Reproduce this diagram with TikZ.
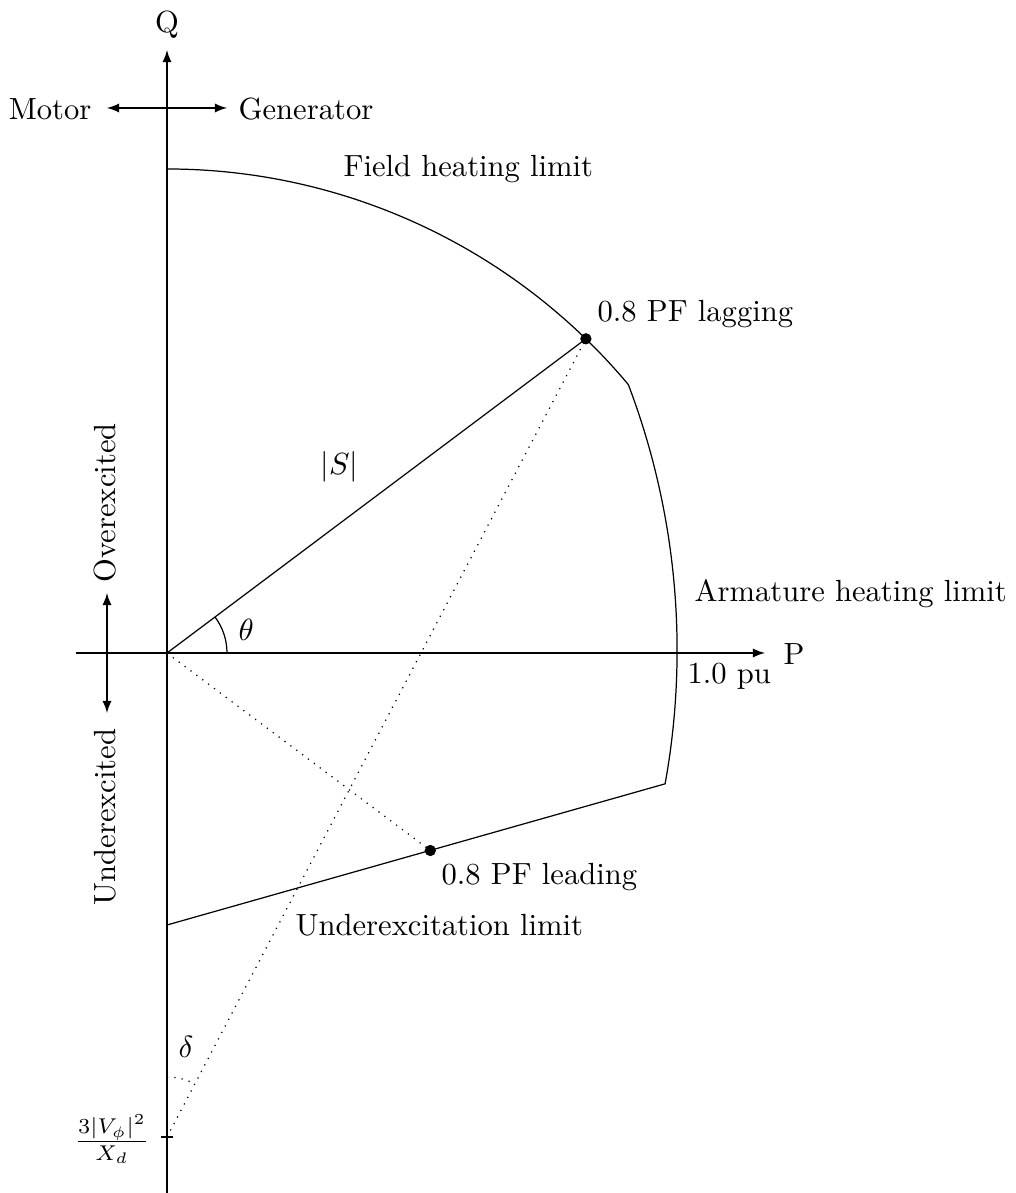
\documentclass[tikz,border=0pt]{standalone}
\usetikzlibrary{arrows}
\begin{document}
\begin{tikzpicture}[x=0.3268pt, y=0.3268pt,
  lbl/.style={inner sep=0pt},
  axisline/.style={-latex},
  dblarrow/.style={latex-latex},
  dotmark/.style={circle, fill=black, inner sep=0pt, minimum size=3.7pt}]
\useasboundingbox (-167,-540) rectangle (848,653);
% key points
\coordinate (O) at (0,0);
\coordinate (Pl) at (-91,0);
\coordinate (Pr) at (598,0);
\coordinate (Qb) at (0,-540);
\coordinate (Qt) at (0,603);
\coordinate (ml) at (-60,545);
\coordinate (mr) at (60,545);
\coordinate (eu) at (-60,60);
\coordinate (ed) at (-60,-60);
\coordinate (Ftop) at (0,484);
\coordinate (U0) at (0,-272);
\coordinate (lagC) at (418.9,314.2);
\coordinate (leadC) at (263.3,-197.5);
\coordinate (T) at (0,-484);
\coordinate (Tl) at (-6,-484);
\coordinate (Tr) at (6,-484);
\coordinate (th0) at (60,0);
\coordinate (de0) at (0,-424);
% axes
\draw[axisline] (Pl) -- (Pr);
\draw[axisline] (Qb) -- (Qt);
\node[lbl, anchor=base west] (Plab) at (616,-12) {P};
\node[lbl, anchor=base] (Qlab) at (0,620) {Q};
% motor / generator
\draw[dblarrow] (ml) -- (mr);
\node[lbl, anchor=base east] (motor) at (-75,533) {Motor};
\node[lbl, anchor=base west] (gen) at (71,533) {Generator};
% over / under excited
\draw[dblarrow] (ed) -- (eu);
\node[lbl, rotate=90, anchor=west] (over) at (-62,70) {Overexcited};
\node[lbl, rotate=90, anchor=east] (under) at (-62,-75) {Underexcited};
% capability boundary
\draw (Ftop) arc[start angle=90, end angle=39.9, radius=601.4]
      arc[start angle=20.79, end angle=-10.27, radius=748.7] -- (U0);
% S vector and leading line
\draw (O) -- (lagC);
\draw[dotted] (O) -- (leadC);
\draw[dotted] (T) -- (lagC);
\draw (Tl) -- (Tr);
% angles
\draw (th0) arc[start angle=0, end angle=36.87, radius=60];
\draw[dotted] (de0) arc[start angle=90, end angle=62.31, radius=60];
% dots
\node[dotmark] (lag) at (lagC) {};
\node[dotmark] (lead) at (leadC) {};
% labels
\node[lbl, anchor=base west] (Slab) at (153,178) {$|S|$};
\node[lbl, anchor=base west] (thlab) at (71,12) {$\theta$};
\node[lbl, anchor=base west] (delab) at (11,-404) {$\delta$};
\node[lbl, anchor=east] (frac) at (-17,-486) {$\frac{3|V_\phi|^2}{X_d}$};
\node[lbl, anchor=base west] (pu) at (520,-31) {1.0 pu};
\node[lbl, anchor=base west] (arm) at (527,51) {Armature heating limit};
\node[lbl, anchor=base west] (field) at (176,476) {Field heating limit};
\node[lbl, anchor=base west] (laglab) at (430,331) {0.8 PF lagging};
\node[lbl, anchor=base west] (leadlab) at (274,-232) {0.8 PF leading};
\node[lbl, anchor=base west] (uel) at (128,-283) {Underexcitation limit};
\end{tikzpicture}
\end{document}
